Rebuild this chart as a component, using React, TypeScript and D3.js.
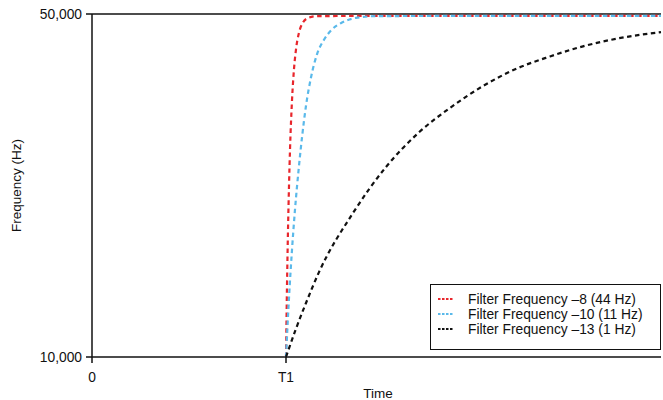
import React from "react";
import * as d3 from "d3";

const T1 = 194;
const xTickTimes = [0, T1];
const xTickLabels = ["0", "T1"];
const yTickValues = [10000, 50000];

const redTimes = [194, 195, 196, 197, 198, 200, 202, 204, 207, 211, 216, 224, 260, 569];
const redValues = [10000, 18280, 24810, 29940, 34140, 39910, 43590, 45880, 47830, 49000, 49530, 49740, 49770, 49770];

const blueTimes = [194, 197, 200, 203, 207, 210, 214, 219, 225, 232, 240, 250, 264, 284, 344, 569];
const blueValues = [10000, 16900, 22500, 27200, 32300, 35600, 39300, 42600, 45300, 47000, 48200, 49000, 49550, 49750, 49770, 49770];

const blackTimes = [194, 204, 214, 227, 261, 294, 327, 358, 391, 425, 458, 491, 525, 569];
const blackValues = [10000, 13300, 16300, 19900, 26790, 32160, 36200, 39050, 41600, 43650, 45050, 46230, 47130, 47890];

const seriesNames = [
  "Filter Frequency \u20138 (44 Hz)",
  "Filter Frequency \u201310 (11 Hz)",
  "Filter Frequency \u201313 (1 Hz)",
];
const seriesColors = ["#e8262c", "#5ab9ea", "#111111"];

export default function App() {
  const W = 663, H = 400;
  const left = 92, right = 661, top = 14, bottom = 357;
  const x = d3.scaleLinear().domain([0, 569]).range([left, right]);
  const y = d3.scaleLinear().domain([10000, 50000]).range([bottom, top]);
  const line = d3
    .line<[number, number]>()
    .x((d) => x(d[0]))
    .y((d) => y(d[1]))
    .curve(d3.curveMonotoneX);

  const series = [
    { times: redTimes, values: redValues },
    { times: blueTimes, values: blueValues },
    { times: blackTimes, values: blackValues },
  ];
  const font = "'Liberation Sans', Arial, Helvetica, sans-serif";
  const fmt = d3.format(",");

  return (
    <svg
      width={W}
      height={H}
      style={{ position: "absolute", left: 0, top: 0, background: "#fff" }}
      fontFamily={font}
    >
      <line x1={left} x2={right} y1={y(50000)} y2={y(50000)} stroke="#111" strokeWidth={1.5} />
      <line x1={left} x2={left} y1={top} y2={bottom} stroke="#111" strokeWidth={1.5} />
      <line x1={left} x2={right} y1={bottom} y2={bottom} stroke="#111" strokeWidth={1.5} />
      {yTickValues.map((v) => (
        <g key={v}>
          <line x1={left - 6} x2={left} y1={y(v)} y2={y(v)} stroke="#111" strokeWidth={1.5} />
          <text x={left - 10} y={y(v)} dy="0.35em" textAnchor="end" fontSize={13.8} fill="#111">
            {fmt(v)}
          </text>
        </g>
      ))}
      {xTickTimes.map((t, i) => (
        <g key={t}>
          <line x1={x(t)} x2={x(t)} y1={bottom} y2={bottom + 6} stroke="#111" strokeWidth={1.5} />
          <text x={x(t)} y={bottom + 25} textAnchor="middle" fontSize={13.8} fill="#111">
            {xTickLabels[i]}
          </text>
        </g>
      ))}
      <text x={378} y={398} textAnchor="middle" fontSize={13.5} fill="#111">
        Time
      </text>
      <text
        transform={`translate(21,${(top + bottom) / 2}) rotate(-90)`}
        textAnchor="middle"
        fontSize={13.5}
        fill="#111"
      >
        Frequency (Hz)
      </text>

      {series.map((s, i) => (
        <path
          key={i}
          d={line(s.times.map((t, j) => [t, s.values[j]] as [number, number])) || ""}
          fill="none"
          stroke={seriesColors[i]}
          strokeWidth={2.2}
          strokeDasharray="4.5,3.5"
        />
      ))}

      <rect x={430.5} y={284.5} width={230} height={65} fill="#fff" stroke="#111" strokeWidth={1} />
      {seriesNames.map((n, i) => (
        <g key={n} transform={`translate(0,${299 + i * 15})`}>
          <line x1={438} x2={453} y1={0} y2={0} stroke={seriesColors[i]} strokeWidth={2} strokeDasharray="2.5,1.5" />
          <text x={468} y={0} dy="0.35em" fontSize={13.8} fill="#111">
            {n}
          </text>
        </g>
      ))}
    </svg>
  );
}
